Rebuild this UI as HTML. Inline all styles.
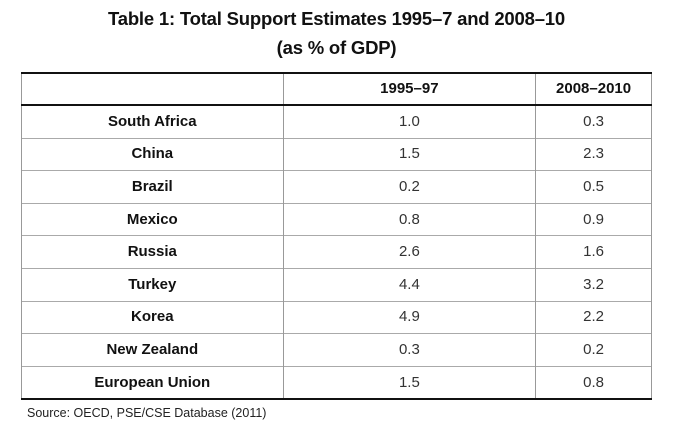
<!DOCTYPE html>
<html><head><meta charset="utf-8">
<style>
body{margin:0;width:673px;height:432px;background:#fff;font-family:"Liberation Sans",sans-serif;color:#111;position:relative;overflow:hidden}
.title{position:absolute;left:0;width:673px;text-align:center;font-weight:bold;font-size:18.5px;letter-spacing:-0.2px}
table{position:absolute;left:21px;top:72px;border-collapse:collapse;width:631px}
td{height:31.6px;padding:0;text-align:center;font-size:15px;border-left:1px solid #999;border-right:1px solid #999;border-top:1px solid #aaa;line-height:16px}
tr.h td{height:30px;border-top:2px solid #111;border-bottom:2px solid #111;font-weight:bold}
tr:last-child td{border-bottom:2px solid #111}
td.c{font-weight:bold}
td.v{color:#333}
.src{position:absolute;left:27px;top:406px;font-size:12.5px;color:#222}
</style></head><body>
<div class="title" style="top:8px">Table 1: Total Support Estimates 1995–7 and 2008–10</div>
<div class="title" style="top:37px">(as % of GDP)</div>
<table>
<colgroup><col style="width:262px"><col style="width:253px"><col style="width:116px"></colgroup>
<tr class="h"><td></td><td>1995–97</td><td>2008–2010</td></tr>
<tr><td class="c">South Africa</td><td class="v">1.0</td><td class="v">0.3</td></tr>
<tr><td class="c">China</td><td class="v">1.5</td><td class="v">2.3</td></tr>
<tr><td class="c">Brazil</td><td class="v">0.2</td><td class="v">0.5</td></tr>
<tr><td class="c">Mexico</td><td class="v">0.8</td><td class="v">0.9</td></tr>
<tr><td class="c">Russia</td><td class="v">2.6</td><td class="v">1.6</td></tr>
<tr><td class="c">Turkey</td><td class="v">4.4</td><td class="v">3.2</td></tr>
<tr><td class="c">Korea</td><td class="v">4.9</td><td class="v">2.2</td></tr>
<tr><td class="c">New Zealand</td><td class="v">0.3</td><td class="v">0.2</td></tr>
<tr><td class="c">European Union</td><td class="v">1.5</td><td class="v">0.8</td></tr>
</table>
<div class="src">Source: OECD, PSE/CSE Database (2011)</div>
</body></html>
